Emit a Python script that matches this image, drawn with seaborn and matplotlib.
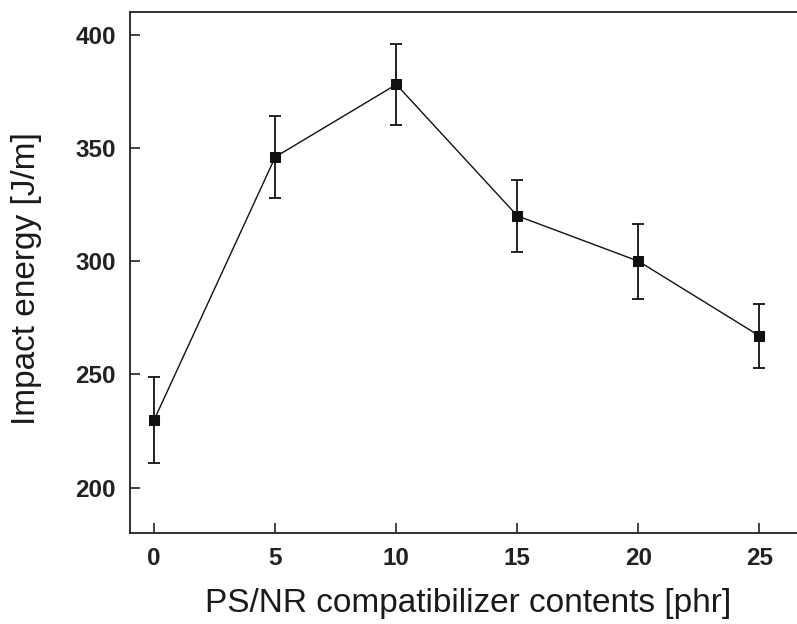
import matplotlib
matplotlib.use("Agg")
import matplotlib.pyplot as plt
import seaborn as sns
import pandas as pd

# ── Data ──────────────────────────────────────────────────────────────────
contents = [0, 5, 10, 15, 20, 25]            # phr
impact   = [230, 346, 378, 320, 300, 267]    # J/m
err      = [19, 18, 18, 16, 16.5, 14]        # J/m

df = pd.DataFrame({"contents": contents, "impact": impact, "err": err})

sns.set_theme(style="ticks")
plt.rcParams["font.family"] = ["Liberation Sans", "DejaVu Sans"]

fig = plt.figure(figsize=(7.97, 6.24), dpi=100)
W, H = 797, 624
ax = fig.add_axes([130 / W, 1 - 533 / H, (W - 130) / W, (533 - 12) / H])

ax.errorbar(df["contents"], df["impact"], yerr=df["err"], fmt="none",
            ecolor="#111111", elinewidth=1.3, capsize=4.5, capthick=1.3, zorder=2)
sns.lineplot(data=df, x="contents", y="impact", marker="s", markersize=7.5,
             color="#111111", linewidth=1.0, markeredgecolor="#111111", ax=ax, zorder=3)

ax.set_xlim(-1.0, 26.55)
ax.set_ylim(180, 410)
ax.set_xticks(contents)
ax.set_yticks([200, 250, 300, 350, 400])

ax.spines["right"].set_visible(False)
for s in ["left", "bottom", "top"]:
    ax.spines[s].set_linewidth(1.3)
    ax.spines[s].set_color("#222222")

ax.tick_params(direction="in", length=7, width=1.2, colors="#222222",
               labelsize=17.5, pad=10, top=False, right=False)
for lab in ax.get_xticklabels() + ax.get_yticklabels():
    lab.set_fontweight("bold")
    lab.set_color("#222222")

ax.set_xlabel("PS/NR compatibilizer contents [phr]", fontsize=24, color="#1a1a1a")
ax.set_ylabel("Impact energy [J/m]", fontsize=24, color="#1a1a1a")
ax.xaxis.set_label_coords(0.507, -0.106)
ax.yaxis.set_label_coords(-0.132, 0.489)

fig.savefig("out.png", dpi=100, facecolor="white")
